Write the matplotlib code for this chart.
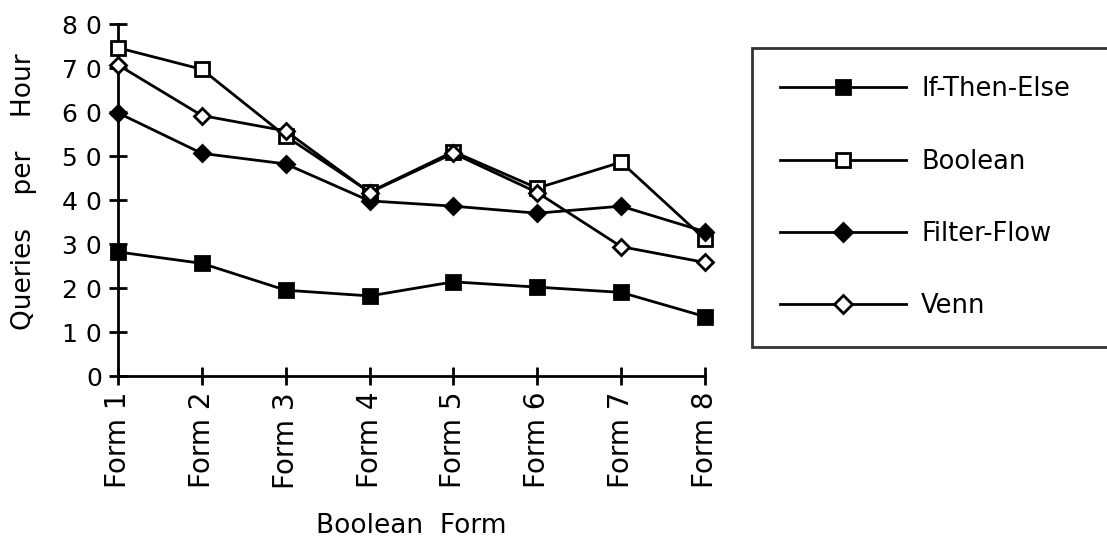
import matplotlib
matplotlib.use("Agg")
import matplotlib.pyplot as plt

forms = ["Form 1", "Form 2", "Form 3", "Form 4", "Form 5", "Form 6", "Form 7", "Form 8"]
if_then_else = [28.2, 25.6, 19.5, 18.2, 21.4, 20.2, 19.0, 13.5]
boolean = [74.6, 69.7, 54.5, 41.8, 51.0, 42.7, 48.6, 31.1]
filter_flow = [59.8, 50.6, 48.2, 39.8, 38.6, 37.0, 38.6, 32.8]
venn = [70.7, 59.2, 55.7, 41.7, 50.6, 41.7, 29.4, 25.8]
y_ticks = [0, 10, 20, 30, 40, 50, 60, 70, 80]
y_tick_labels = ["0", "1 0", "2 0", "3 0", "4 0", "5 0", "6 0", "7 0", "8 0"]

plt.rcParams['font.family'] = ['DejaVu Sans']
fig = plt.figure(figsize=(11.07, 5.41), dpi=100)
ax = fig.add_axes([118/1107, 1-376/541, (705-118)/1107, (376-24)/541])

x = list(range(1, len(forms)+1))
series = [
    ("If-Then-Else", if_then_else, "s", "black"),
    ("Boolean", boolean, "s", "white"),
    ("Filter-Flow", filter_flow, "D", "black"),
    ("Venn", venn, "D", "white"),
]
for name, vals, mk, fc in series:
    ms = 9.5 if mk == "s" else 8.5
    ax.plot(x, vals, color="black", linewidth=2, marker=mk, markersize=ms,
            markerfacecolor=fc, markeredgecolor="black", markeredgewidth=2,
            label=name, clip_on=False, zorder=3)

ax.set_xlim(1, 8)
ax.set_ylim(0, 80)
ax.set_xticks(x)
ax.set_xticklabels(forms, rotation=90, fontsize=20)
ax.set_yticks(y_ticks)
ax.set_yticklabels(y_tick_labels, fontsize=18)
ax.tick_params(direction="inout", length=13, width=2, pad=5)
for s in ["top", "right"]:
    ax.spines[s].set_visible(False)
for s in ["left", "bottom"]:
    ax.spines[s].set_linewidth(2)
ax.set_ylabel("Queries    per    Hour", fontsize=19)
ax.yaxis.set_label_coords(-0.138, 0.524)
ax.set_xlabel("Boolean  Form", fontsize=19)
ax.xaxis.set_label_coords(0.5, -0.39)

leg = fig.legend(loc="upper left", bbox_to_anchor=(752/1107, 1-48/541, 420/1107, 0),
                 mode="expand",
                 fontsize=18.5, frameon=True, fancybox=False, handlelength=4.9,
                 handletextpad=0.58, labelspacing=1.8, borderpad=1.1,
                 markerscale=1.1, borderaxespad=0)
leg.get_frame().set_edgecolor("black")
leg.get_frame().set_linewidth(2)
for l in leg.get_lines():
    l.set_linewidth(2)

fig.savefig("out.png", dpi=100)
